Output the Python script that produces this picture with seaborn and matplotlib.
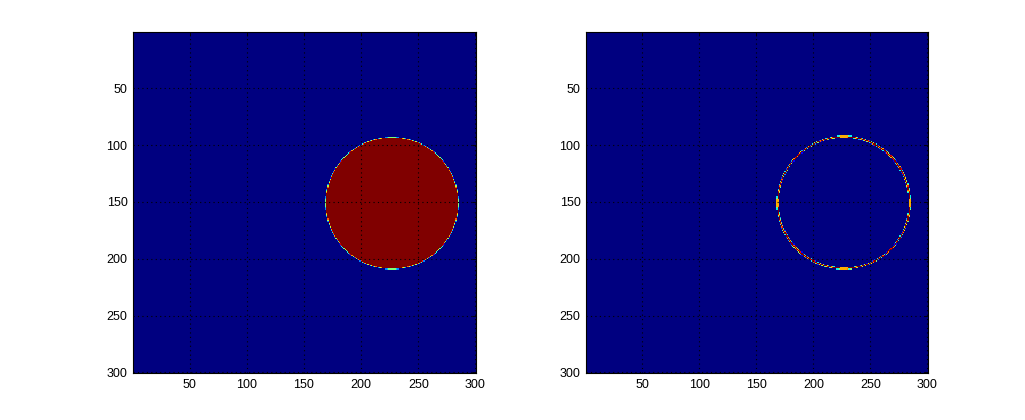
import numpy as np
import pandas as pd
import matplotlib
matplotlib.use("Agg")
import matplotlib.pyplot as plt
import seaborn as sns

# image parameters (MATLAB-style pixel coordinates, 1-based)
image_size = 300
circle_center_x = 227
circle_center_y = 151
circle_radius = 58
tick_values = [50, 100, 150, 200, 250, 300]
tick_labels = ["50", "100", "150", "200", "250", "300"]

# build disk with partial-coverage edge (supersampled)
ss = 4
coords = (np.arange(image_size * ss) + 0.5) / ss + 0.5
X, Y = np.meshgrid(coords, coords)
inside = ((X - circle_center_x) ** 2 + (Y - circle_center_y) ** 2) <= circle_radius ** 2
disk = inside.reshape(image_size, ss, image_size, ss).mean(axis=(1, 3))

# edge map: one-pixel boundary from forward differences of the disk
dx = np.zeros_like(disk)
dy = np.zeros_like(disk)
dx[:, :-1] = disk[:, 1:] - disk[:, :-1]
dy[:-1, :] = disk[1:, :] - disk[:-1, :]
edge = np.hypot(dx, dy)
edge = np.clip(edge / (0.6 * edge.max()), 0, 1)

sns.set_style("white")
plt.rcParams['font.family'] = ['Liberation Sans', 'DejaVu Sans']

fig = plt.figure(figsize=(10.25, 4.2), dpi=100)
W, H = 1025, 420
axes_px = [(133, 476), (586, 928)]
top_px, bot_px = 32, 373

for (x0, x1), data in zip(axes_px, [disk, edge]):
    ax = fig.add_axes([x0 / W, (H - bot_px) / H, (x1 - x0) / W, (bot_px - top_px) / H])
    sns.heatmap(pd.DataFrame(data), ax=ax, cmap="jet", vmin=0, vmax=1,
                cbar=False, xticklabels=False, yticklabels=False, rasterized=True)
    pos = [v - 0.5 for v in tick_values]
    ax.set_xticks(pos)
    ax.set_xticklabels(tick_labels)
    ax.set_yticks(pos)
    ax.set_yticklabels(tick_labels, rotation=0)
    ax.set_xlim(0, image_size)
    ax.set_ylim(image_size, 0)
    ax.tick_params(direction="in", length=3, width=0.6, labelsize=9,
                   top=True, right=True, pad=4, colors="black")
    ax.grid(True, color="black", linestyle=(0, (1, 3)), linewidth=0.8)
    ax.set_axisbelow(False)
    for s in ax.spines.values():
        s.set_visible(True)
        s.set_color("black")
        s.set_linewidth(0.8)
    ax.set_xlabel("")
    ax.set_ylabel("")

fig.savefig("out.png", dpi=100, facecolor="white")
